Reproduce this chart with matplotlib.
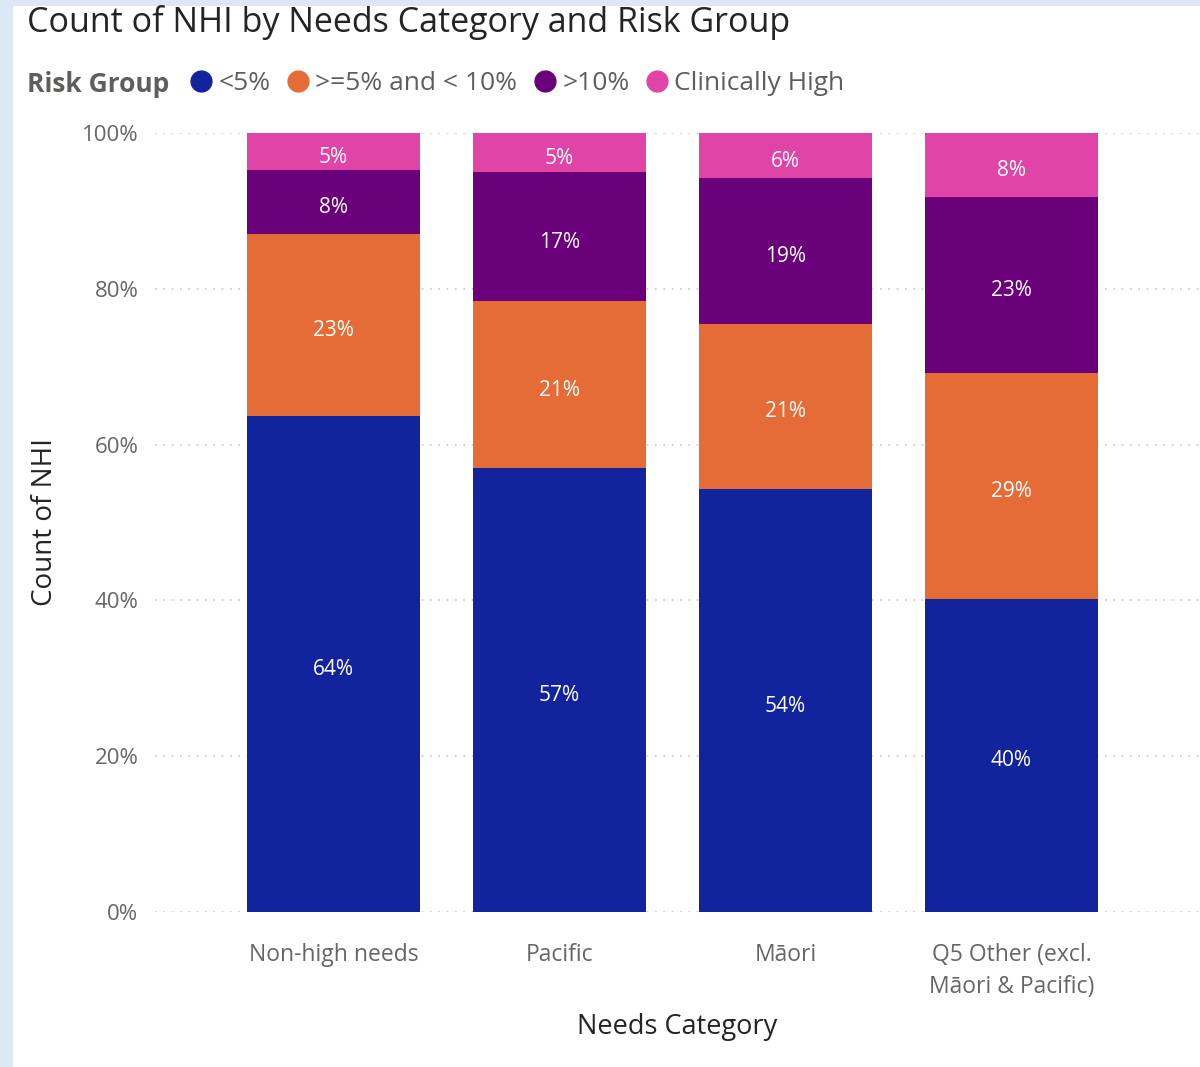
import matplotlib.pyplot as plt
import matplotlib.patches as mpatches
from matplotlib.lines import Line2D

categories = ['Non-high needs', 'Pacific', 'Māori', 'Q5 Other (excl.\nMāori & Pacific)']
risk_groups = ['<5%', '>=5% and < 10%', '>10%', 'Clinically High']
low = [63.7, 57.0, 54.3, 40.2]
mid = [23.3, 21.4, 21.2, 29.0]
high = [8.2, 16.6, 18.7, 22.6]
clinical = [4.8, 5.0, 5.8, 8.2]
colors = ['#12239E', '#E66C37', '#6B007B', '#E044A7']

plt.rcParams['font.family'] = ['Open Sans', 'DejaVu Sans']

fig = plt.figure(figsize=(12, 10.67), dpi=100)
fig.patch.set_facecolor('#dde8f5')
# white card
fig.add_artist(mpatches.Rectangle((13 / 1200, 0), 1, 1 - 6 / 1067, transform=fig.transFigure,
                                  facecolor='white', edgecolor='none', zorder=0))

ax = fig.add_axes([155 / 1200, 1 - 912 / 1067, 1045 / 1200, (912 - 133) / 1067])
ax.set_facecolor('none')

x = range(len(categories))
bottom = [0] * len(categories)
for name, vals, c in zip(risk_groups, [low, mid, high, clinical], colors):
    bars = ax.bar(x, vals, 0.766, bottom=bottom, color=c, label=name, zorder=2, clip_on=False)
    ax.bar_label(bars, labels=['%.0f%%' % v for v in vals], label_type='center',
                 color='white', fontsize=15, padding=-4)
    bottom = [b + v for b, v in zip(bottom, vals)]

ax.set_xlim(-0.79, 3.835)
ax.set_ylim(0, 100)
ax.set_yticks([0, 20, 40, 60, 80, 100])
ax.set_yticklabels(['0%', '20%', '40%', '60%', '80%', '100%'])
ax.yaxis.grid(True, linestyle=(0, (1, 4)), color='#c8c8c8', linewidth=1.2, zorder=0)
for s in ax.spines.values():
    s.set_visible(False)
ax.tick_params(axis='both', length=0, labelsize=16, labelcolor='#666666')
ax.tick_params(axis='y', pad=12)
ax.tick_params(axis='x', pad=22, labelsize=16.5)
ax.set_xticks(list(x))
ax.set_xticklabels(categories, linespacing=1.45)

ax.set_xlabel('Needs Category', fontsize=19.5, color='#252423', labelpad=10)
ax.set_ylabel('Count of NHI', fontsize=20, color='#252423', labelpad=16)

fig.text(27 / 1200, 1 - 23 / 1067, 'Count of NHI by Needs Category and Risk Group',
         fontsize=24.5, color='#252423', va='center', ha='left')
fig.text(27 / 1200, 1 - 84 / 1067, 'Risk Group', fontsize=19, fontweight='bold',
         color='#605E5C', va='center', ha='left')

handles = [Line2D([], [], marker='o', linestyle='none', markersize=15, color=c) for c in colors]
fig.legend(handles, risk_groups, loc='center left', bbox_to_anchor=(188 / 1200, 1 - 84 / 1067),
           ncol=4, frameon=False, fontsize=19, handletextpad=0.15, columnspacing=0.55,
           handlelength=1.0, labelcolor='#605E5C', borderaxespad=0, borderpad=0)

fig.savefig('out.png', dpi=100)
